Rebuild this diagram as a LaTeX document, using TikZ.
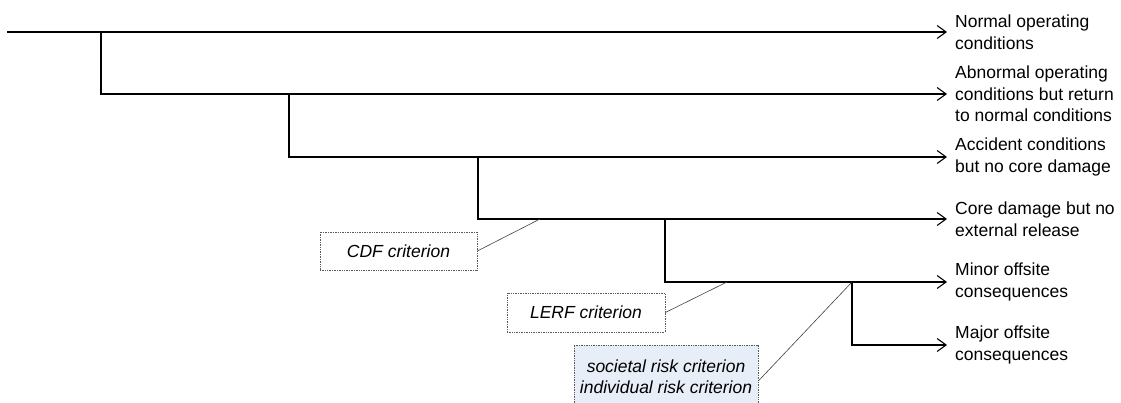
\documentclass[tikz,border=0pt]{standalone}
\usepackage{fontspec}
\setmainfont{Liberation Sans}
\usetikzlibrary{arrows.meta}
\definecolor{boxfill}{RGB}{232,238,248}
\definecolor{dotgray}{RGB}{90,90,90}
\begin{document}
\begin{tikzpicture}[x=1pt,y=-1pt,
  tree/.style={line width=1.3pt,black},
  arr/.style={tree,-{Straight Barb[length=9pt,width=13pt,line width=1.1pt]}},
  lab/.style={anchor=west,align=left,inner xsep=8pt,inner ysep=0pt,
    font=\fontsize{17.5}{21.5}\selectfont},
  crit/.style={draw=dotgray,densely dotted,line width=0.7pt,inner sep=0pt,
    font=\fontsize{17.5}{21.5}\selectfont\itshape,align=center},
  lead/.style={line width=0.6pt,draw=black!75}]
\useasboundingbox (0,0) rectangle (1121,403);
% branch points
\coordinate (s0) at (7,32);
\coordinate (b1) at (101,32);
\coordinate (b2) at (289,94);
\coordinate (b3) at (478,157);
\coordinate (b4) at (665,219);
\coordinate (b5) at (852,282);
% outcome labels
\node[lab] (l1) at (947,32)  {Normal operating\\conditions};
\node[lab] (l2) at (947,94)  {Abnormal operating\\conditions but return\\to normal conditions};
\node[lab] (l3) at (947,157) {Accident conditions\\but no core damage};
\node[lab] (l4) at (947,219) {Core damage but no\\external release};
\node[lab] (l5) at (947,282) {Minor offsite\\consequences};
\node[lab] (l6) at (947,345) {Major offsite\\consequences};
% tree
\draw[arr] (s0) -- (l1.west);
\draw[arr] (b1) |- (l2.west);
\draw[arr] (b2) |- (l3.west);
\draw[arr] (b3) |- (l4.west);
\draw[arr] (b4) |- (l5.west);
\draw[arr] (b5) |- (l6.west);
% criteria
\coordinate (p4) at (540,219);
\coordinate (p5) at (727,282);
\node[crit,minimum width=157pt,minimum height=38pt] (cdf) at (398.5,251) {CDF criterion};
\node[crit,minimum width=158pt,minimum height=39pt] (lerf) at (586,312.5) {LERF criterion};
\node[crit,fill=boxfill,minimum width=184pt,minimum height=66pt,text depth=0pt] (soc) at (666,378)
  {\raisebox{15pt}{\parbox{184pt}{\centering societal risk criterion\\individual risk criterion}}};
\draw[lead] (cdf.east) -- (p4);
\draw[lead] (lerf.east) -- (p5);
\draw[lead] ([yshift=-3pt]soc.east) -- (b5);
\end{tikzpicture}
\end{document}
